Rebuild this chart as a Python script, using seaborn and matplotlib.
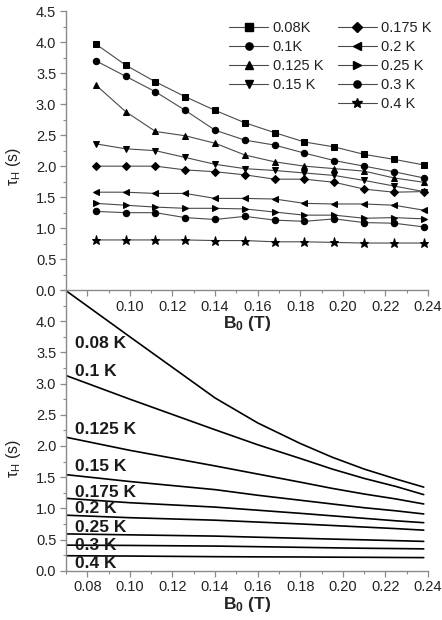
import numpy as np
import pandas as pd
import matplotlib
matplotlib.use("Agg")
import matplotlib.pyplot as plt
import seaborn as sns
from matplotlib.ticker import MultipleLocator, FixedLocator, FixedFormatter
from matplotlib.lines import Line2D

# ---- data: measured tau_H vs B0 (top panel) ----
b0_meas = [0.084, 0.098, 0.112, 0.126, 0.140, 0.154, 0.168, 0.182, 0.196, 0.210, 0.224, 0.238]

tau_008 = [3.97, 3.63, 3.36, 3.12, 2.90, 2.70, 2.54, 2.39, 2.31, 2.19, 2.11, 2.02]
tau_010 = [3.70, 3.45, 3.20, 2.90, 2.58, 2.42, 2.34, 2.21, 2.09, 2.00, 1.91, 1.81]
tau_0125 = [3.31, 2.88, 2.56, 2.49, 2.37, 2.18, 2.07, 2.00, 1.96, 1.92, 1.81, 1.74]
tau_015 = [2.36, 2.28, 2.25, 2.14, 2.03, 1.96, 1.93, 1.89, 1.85, 1.77, 1.68, 1.59]
tau_0175 = [2.00, 2.00, 2.00, 1.94, 1.91, 1.86, 1.79, 1.79, 1.74, 1.63, 1.58, 1.59]
tau_020 = [1.58, 1.58, 1.56, 1.56, 1.48, 1.48, 1.47, 1.40, 1.39, 1.39, 1.37, 1.29]
tau_025 = [1.40, 1.37, 1.34, 1.32, 1.32, 1.31, 1.26, 1.21, 1.21, 1.16, 1.17, 1.15]
tau_030 = [1.27, 1.25, 1.25, 1.17, 1.14, 1.19, 1.13, 1.11, 1.15, 1.09, 1.08, 1.02]
tau_040 = [0.81, 0.81, 0.81, 0.81, 0.80, 0.80, 0.78, 0.78, 0.77, 0.76, 0.76, 0.76]

meas_labels = ["0.08K", "0.1K", "0.125 K", "0.15 K", "0.175 K",
               "0.2 K", "0.25 K", "0.3 K", "0.4 K"]
meas_markers = ["s", "o", "^", "v", "D", "<", ">", "o", "*"]

# ---- data: calculated curves (bottom panel) ----
b0_calc = [0.07, 0.10, 0.14, 0.16, 0.18, 0.195, 0.21, 0.225, 0.238]

calc_008 = [4.49, 3.75, 2.77, 2.37, 2.04, 1.82, 1.63, 1.47, 1.34]
calc_010 = [3.13, 2.75, 2.26, 2.02, 1.80, 1.63, 1.48, 1.35, 1.22]
calc_0125 = [2.14, 1.93, 1.68, 1.55, 1.42, 1.32, 1.23, 1.15, 1.07]
calc_015 = [1.54, 1.43, 1.30, 1.21, 1.13, 1.07, 1.01, 0.96, 0.91]
calc_0175 = [1.16, 1.09, 1.02, 0.97, 0.92, 0.88, 0.84, 0.80, 0.77]
calc_020 = [0.89, 0.85, 0.81, 0.78, 0.75, 0.725, 0.70, 0.675, 0.65]
calc_025 = [0.59, 0.575, 0.555, 0.537, 0.52, 0.507, 0.495, 0.482, 0.47]
calc_030 = [0.41, 0.405, 0.395, 0.385, 0.375, 0.367, 0.36, 0.355, 0.35]
calc_040 = [0.24, 0.235, 0.225, 0.222, 0.22, 0.217, 0.215, 0.212, 0.21]

calc_labels = ["0.08 K", "0.1 K", "0.125 K", "0.15 K", "0.175 K",
               "0.2 K", "0.25 K", "0.3 K", "0.4 K"]
# y position (data units) of each inline label
calc_label_y = [3.64, 3.20, 2.26, 1.67, 1.26, 1.00, 0.69, 0.40, 0.12]

meas_series = [tau_008, tau_010, tau_0125, tau_015, tau_0175,
               tau_020, tau_025, tau_030, tau_040]
calc_series = [calc_008, calc_010, calc_0125, calc_015, calc_0175,
               calc_020, calc_025, calc_030, calc_040]

# ---- style ----
sns.set_theme(style="ticks")
plt.rcParams["font.family"] = ["Liberation Sans", "DejaVu Sans"]
plt.rcParams["mathtext.fontset"] = "custom"
plt.rcParams["mathtext.rm"] = "Liberation Sans"
plt.rcParams["mathtext.it"] = "Liberation Sans:italic"
plt.rcParams["mathtext.bf"] = "Liberation Sans:bold"

spine_col = "#8a8a8a"
text_col = "#222222"

fig = plt.figure(figsize=(4.42, 6.2), dpi=100)
ax_bot = fig.add_axes([0.1493, 0.0795, 0.819, 0.4527])
ax_top = fig.add_axes([0.1493, 0.532, 0.819, 0.450])
# top axes on top so its tick labels show over the lower panel
ax_top.set_zorder(3)
ax_top.patch.set_alpha(0)
ax_bot.patch.set_alpha(0)


def style_axis(ax):
    for side in ["top", "right"]:
        ax.spines[side].set_visible(False)
    for side in ["left", "bottom"]:
        ax.spines[side].set_color(spine_col)
        ax.spines[side].set_linewidth(1.0)
    ax.set_xlim(0.07, 0.24)
    ax.set_ylim(0, 4.5)
    ax.yaxis.set_major_locator(MultipleLocator(0.5))
    ax.yaxis.set_minor_locator(MultipleLocator(0.25))
    ax.xaxis.set_minor_locator(MultipleLocator(0.01))
    ax.tick_params(which="major", length=4, width=0.9, color=spine_col,
                   labelsize=10.5, labelcolor=text_col, direction="out", pad=3)
    ax.tick_params(which="minor", length=2, width=0.8, color=spine_col,
                   direction="out")
    ax.yaxis.set_major_formatter(plt.FuncFormatter(lambda v, p: f"{v:.1f}"))


# ---- top panel ----
style_axis(ax_top)
handles = []
for vals, lab, mk in zip(meas_series, meas_labels, meas_markers):
    ms = {"*": 6.5, "D": 4.0}.get(mk, 4.6)
    sns.lineplot(x=b0_meas, y=vals, ax=ax_top, color="#4a4a4a", lw=0.8,
                 marker=mk, markersize=ms, markerfacecolor="black",
                 markeredgecolor="black", legend=False)
    handles.append(Line2D([], [], color="#4a4a4a", lw=0.8, marker=mk,
                          markersize=ms + 0.6, markerfacecolor="black",
                          markeredgecolor="black", label=lab))

top_ticks = [0.08, 0.10, 0.12, 0.14, 0.16, 0.18, 0.20, 0.22, 0.24]
ax_top.xaxis.set_major_locator(FixedLocator(top_ticks))
ax_top.xaxis.set_major_formatter(
    FixedFormatter([""] + [f"{t:.2f}" for t in top_ticks[1:]]))
ax_top.set_xlabel(r"$\mathbf{B_0}$ $\mathbf{(T)}$", fontsize=12.5,
                  color=text_col)
ax_top.xaxis.set_label_coords(0.5, -0.085)
ax_top.set_ylabel(r"τ$_\mathrm{H}$ (s)", fontsize=11.5, color=text_col)
ax_top.yaxis.set_label_coords(-0.12, 0.445)

blank = Line2D([], [], alpha=0, label=" ")
leg_handles = handles[:4] + [blank] + handles[4:]
leg = ax_top.legend(handles=leg_handles, loc="upper left",
                    bbox_to_anchor=(0.45, 0.965), ncol=2, frameon=False,
                    fontsize=10.5, handlelength=2.7, handletextpad=0.3,
                    columnspacing=1.0, labelspacing=0.34, borderpad=0,
                    borderaxespad=0)
for t in leg.get_texts():
    t.set_color(text_col)

# ---- bottom panel ----
style_axis(ax_bot)
for vals in calc_series:
    sns.lineplot(x=b0_calc, y=vals, ax=ax_bot, color="black", lw=1.2,
                 legend=False)
for lab, ly in zip(calc_labels, calc_label_y):
    ax_bot.text(0.0742, ly, lab, fontsize=12.5, fontweight="bold",
                color="#1a1a1a", va="center", ha="left")

bot_ticks = [0.08, 0.10, 0.12, 0.14, 0.16, 0.18, 0.20, 0.22, 0.24]
ax_bot.xaxis.set_major_locator(FixedLocator(bot_ticks))
ax_bot.xaxis.set_major_formatter(FixedFormatter([f"{t:.2f}" for t in bot_ticks]))
ax_bot.yaxis.set_major_locator(FixedLocator([0.0, 0.5, 1.0, 1.5, 2.0, 2.5, 3.0, 3.5, 4.0, 4.5]))
ax_bot.yaxis.set_major_formatter(FixedFormatter(
    ["0.0", "0.5", "1.0", "1.5", "2.0", "2.5", "3.0", "3.5", "4.0", ""]))
ax_bot.set_xlabel(r"$\mathbf{B_0}$ $\mathbf{(T)}$", fontsize=12.5,
                  color=text_col)
ax_bot.xaxis.set_label_coords(0.5, -0.085)
ax_bot.set_ylabel(r"τ$_\mathrm{H}$ (s)", fontsize=11.5, color=text_col)
ax_bot.yaxis.set_label_coords(-0.12, 0.40)

fig.savefig("out.png", dpi=100, facecolor="white")
